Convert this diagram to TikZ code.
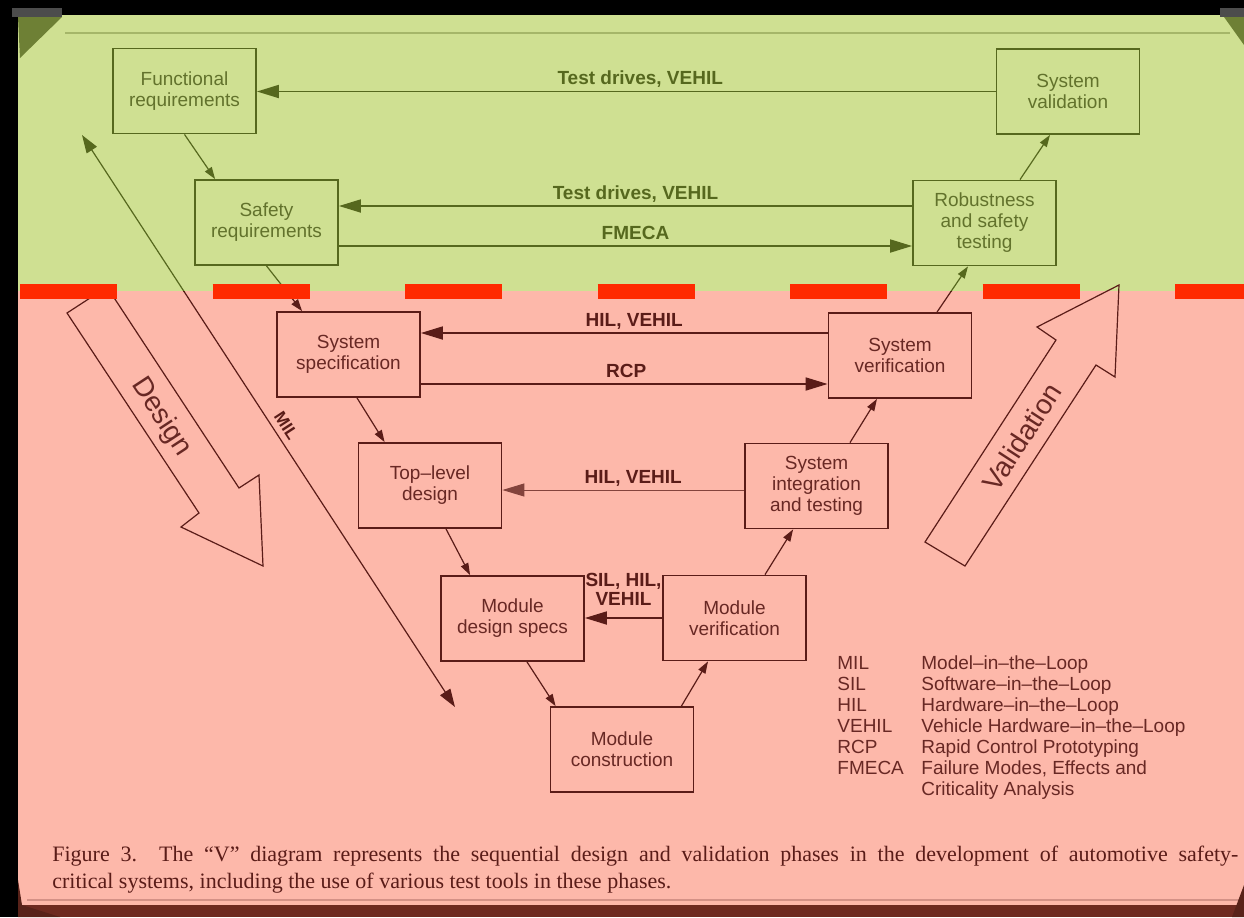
\documentclass[tikz,border=0pt]{standalone}
\usepackage{fontspec}
\setmainfont{Liberation Serif}
\setsansfont{Liberation Sans}
\usetikzlibrary{arrows.meta,positioning}

\definecolor{greenbg}{RGB}{207,224,146}
\definecolor{pinkbg}{RGB}{253,184,170}
\definecolor{greenink}{RGB}{86,104,30}
\definecolor{pinkink}{RGB}{90,28,24}
\definecolor{greentext}{RGB}{98,114,44}
\definecolor{pinktext}{RGB}{104,40,36}
\definecolor{redbar}{RGB}{255,42,0}
\definecolor{bandbrown}{RGB}{110,42,32}

\begin{document}
\begin{tikzpicture}
    [
        x = 0.5pt, y = -0.5pt,
        phase/.style = {draw, line width = 0.9pt, minimum width = 71.5pt, minimum height = 42.5pt,
            inner sep = 2pt, align = center, font = \sffamily\fontsize{9.5}{10.5}\selectfont},
        greenphase/.style = {phase, draw = greenink, text = greentext},
        pinkphase/.style = {phase, draw = pinkink, text = pinktext},
        flow/.style = {line width = 0.9pt, -{Triangle[length = 11pt, width = 6.5pt]}},
        link/.style = {line width = 0.6pt, -{Triangle[length = 6pt, width = 4pt]}},
        mil/.style = {line width = 0.6pt, {Triangle[length = 9pt, width = 6pt]}-{Triangle[length = 9pt, width = 6pt]}},
        tool/.style = {above, xshift = 5pt, inner sep = 3pt, text depth = 0pt,
            font = \sffamily\bfseries\fontsize{9.5}{9.5}\selectfont},
        bigarrow/.style = {draw = pinkink, line width = 0.6pt, line join = miter},
        bigtext/.style = {text = pinktext, font = \sffamily\fontsize{14}{14}\selectfont},
        legendtext/.style = {anchor = north west, align = left, inner sep = 0pt, text = pinktext,
            font = \sffamily\fontsize{9.5}{10.5}\selectfont}
    ]

    \useasboundingbox (0,0) rectangle (1244,917);

    % background: photo frame, green and pink bands
    \fill[black] (0,0) rectangle (1244,917);
    \fill[greenbg] (18,15) rectangle (1244,291);
    \fill[pinkbg] (18,291) rectangle (1244,905);
    \fill[bandbrown] (18,905) rectangle (1244,917);
    \draw[greenink!35!greenbg, line width = 0.8pt] (65,33) -- (1230,33);
    \draw[pinkink!25!pinkbg, line width = 0.6pt] (27,900) -- (1244,900);

    % phases of the V
    \node[greenphase] (func) at (184.5,91) {Functional\\requirements};
    \node[greenphase] (safety) at (266.5,222.5) {Safety\\requirements};
    \node[greenphase] (sysval) at (1068,91.5) {System\\validation};
    \node[greenphase] (robust) at (984.5,223) {Robustness\\and safety\\testing};
    \node[pinkphase] (sysspec) at (348.5,354.5) {System\\specification};
    \node[pinkphase] (sysver) at (900,355.5) {System\\verification};
    \node[pinkphase] (toplev) at (430,485.5) {Top--level\\design};
    \node[pinkphase] (sysint) at (816.5,486) {System\\integration\\and testing};
    \node[pinkphase] (moddes) at (512.5,618.5) {Module\\design specs};
    \node[pinkphase] (modver) at (734.5,618) {Module\\verification};
    \node[pinkphase] (modcon) at (622,749.5) {Module\\construction};

    % test tools between the two legs
    \draw[flow, greenink] (sysval.west) coordinate (td1)
        -- node[tool, xshift = 2pt] {Test drives, VEHIL} (td1 -| func.east);
    \draw[flow, greenink] ([yshift = 8.5pt]robust.west) coordinate (td2)
        -- node[tool] {Test drives, VEHIL} (td2 -| safety.east);
    \draw[flow, greenink] ([yshift = -11.75pt]safety.east) coordinate (fm)
        -- node[tool] {FMECA} (fm -| robust.west);
    \draw[flow, pinkink] ([yshift = 11.25pt]sysver.west) coordinate (hv1)
        -- node[tool] {HIL, VEHIL} (hv1 -| sysspec.east);
    \draw[flow, pinkink] ([yshift = -14.75pt]sysspec.east) coordinate (rcp)
        -- node[tool, xshift = -4pt] {RCP} (rcp -| sysver.west);
    \draw[flow, pinkink!75!pinkbg, line width = 0.5pt] ([yshift = -2pt]sysint.west) coordinate (hv2)
        -- node[tool, text = pinkink] {HIL, VEHIL} (hv2 -| toplev.east);
    \draw[flow, pinkink] (modver.west) coordinate (sil)
        -- node[tool, align = center, xshift = -5pt, yshift = 3pt] {SIL, HIL,\\VEHIL} (sil -| moddes.east);

    % steps down and up the V
    \draw[link, greenink] (func.south) -- ([xshift = 10.5pt]safety.north west);
    \draw[link, pinkink] ([xshift = 4.25pt]sysspec.south) -- ([xshift = 13.5pt]toplev.north west);
    \draw[link, pinkink] ([xshift = 8pt]toplev.south) -- ([xshift = 15pt]moddes.north west);
    \draw[link, pinkink] ([xshift = 7.25pt]moddes.south) -- ([xshift = 3pt]modcon.north west);
    \draw[link, pinkink] ([xshift = -6.5pt]modcon.north east) -- ([xshift = -13.25pt]modver.south);
    \draw[link, pinkink] ([xshift = 15.25pt]modver.north) -- ([xshift = 24.5pt]sysint.south west);
    \draw[link, pinkink] ([xshift = 16.75pt]sysint.north) -- ([xshift = -11.5pt]sysver.south);
    \draw[link, greenink] ([xshift = 17.75pt]robust.north) -- ([xshift = -9pt]sysval.south);

    % MIL spans the whole design leg
    \coordinate (milTop) at (82,135);
    \coordinate (milBot) at (455,707);

    % links crossing from one band into the other
    \foreach \ytop/\ybot/\ink in {0/291/greenink, 291/917/pinkink}
    {
        \begin{scope}[color = \ink]
            \clip (0,\ytop) rectangle (1244,\ybot);
            \draw[link] (safety.south) -- ([xshift = 13pt]sysspec.north west);
            \draw[link] ([xshift = 18.5pt]sysver.north) -- ([xshift = -8.25pt]robust.south);
            \draw[mil] (milTop) -- (milBot);
        \end{scope}
    }
    \path (milTop) -- node[sloped, above, pos = 0.52, inner sep = 3pt, text depth = 0pt, text = pinkink,
        font = \sffamily\bfseries\fontsize{8.5}{8.5}\selectfont] {MIL} (milBot);

    % big hollow arrows
    \draw[bigarrow] (107,287) -- (239,488) -- (259,475) -- (263,566) -- (181,527) -- (199,513) -- (67,313) -- cycle;
    \node[bigtext, rotate = -56.7] (design) at (161,417) {Design};
    \draw[bigarrow] (925,542) -- (1056,340) -- (1037,327) -- (1119,285) -- (1115,377) -- (1096,365) -- (965,566) -- cycle;
    \node[bigtext, rotate = 57] (validation) at (1022,437) {Validation};

    % abbreviations
    \node[legendtext] (abbr) at (837,656) {MIL\\SIL\\HIL\\VEHIL\\RCP\\FMECA};
    \node[legendtext] (meaning) at (921,655) {Model--in--the--Loop\\Software--in--the--Loop\\Hardware--in--the--Loop\\
        Vehicle Hardware--in--the--Loop\\Rapid Control Prototyping\\Failure Modes, Effects and\\Criticality Analysis};

    % caption
    \node[anchor = north west, align = left, inner sep = 0pt, text = pinkink, font = \fontsize{11}{13.5}\selectfont]
        (caption) at (52,846)
        {\makebox[593pt][s]{Figure 3.\quad The “V” diagram represents the sequential design and validation phases in the development of automotive safety-}\\
        critical systems, including the use of various test tools in these phases.};

    % red dashed border between the bands
    \draw[redbar, line width = 7.5pt, dash pattern = on 48.5pt off 47.75pt] (20,291) -- (1244,291);

    % corners of the frame
    \fill[black!70] (12,8) rectangle (62,17);
    \fill[greenink!80!greenbg] (18,17) -- (62,17) -- (20,58) -- cycle;
    \fill[black!70] (1220,8) rectangle (1244,17);
    \fill[greenink!80!greenbg] (1224,17) -- (1244,17) -- (1244,45) -- cycle;
    \fill[bandbrown!80!black] (18,880) -- (22,905) -- (60,917) -- (18,917) -- cycle;
    \fill[bandbrown!80!black] (1244,885) -- (1232,917) -- (1244,917) -- cycle;
\end{tikzpicture}
\end{document}
